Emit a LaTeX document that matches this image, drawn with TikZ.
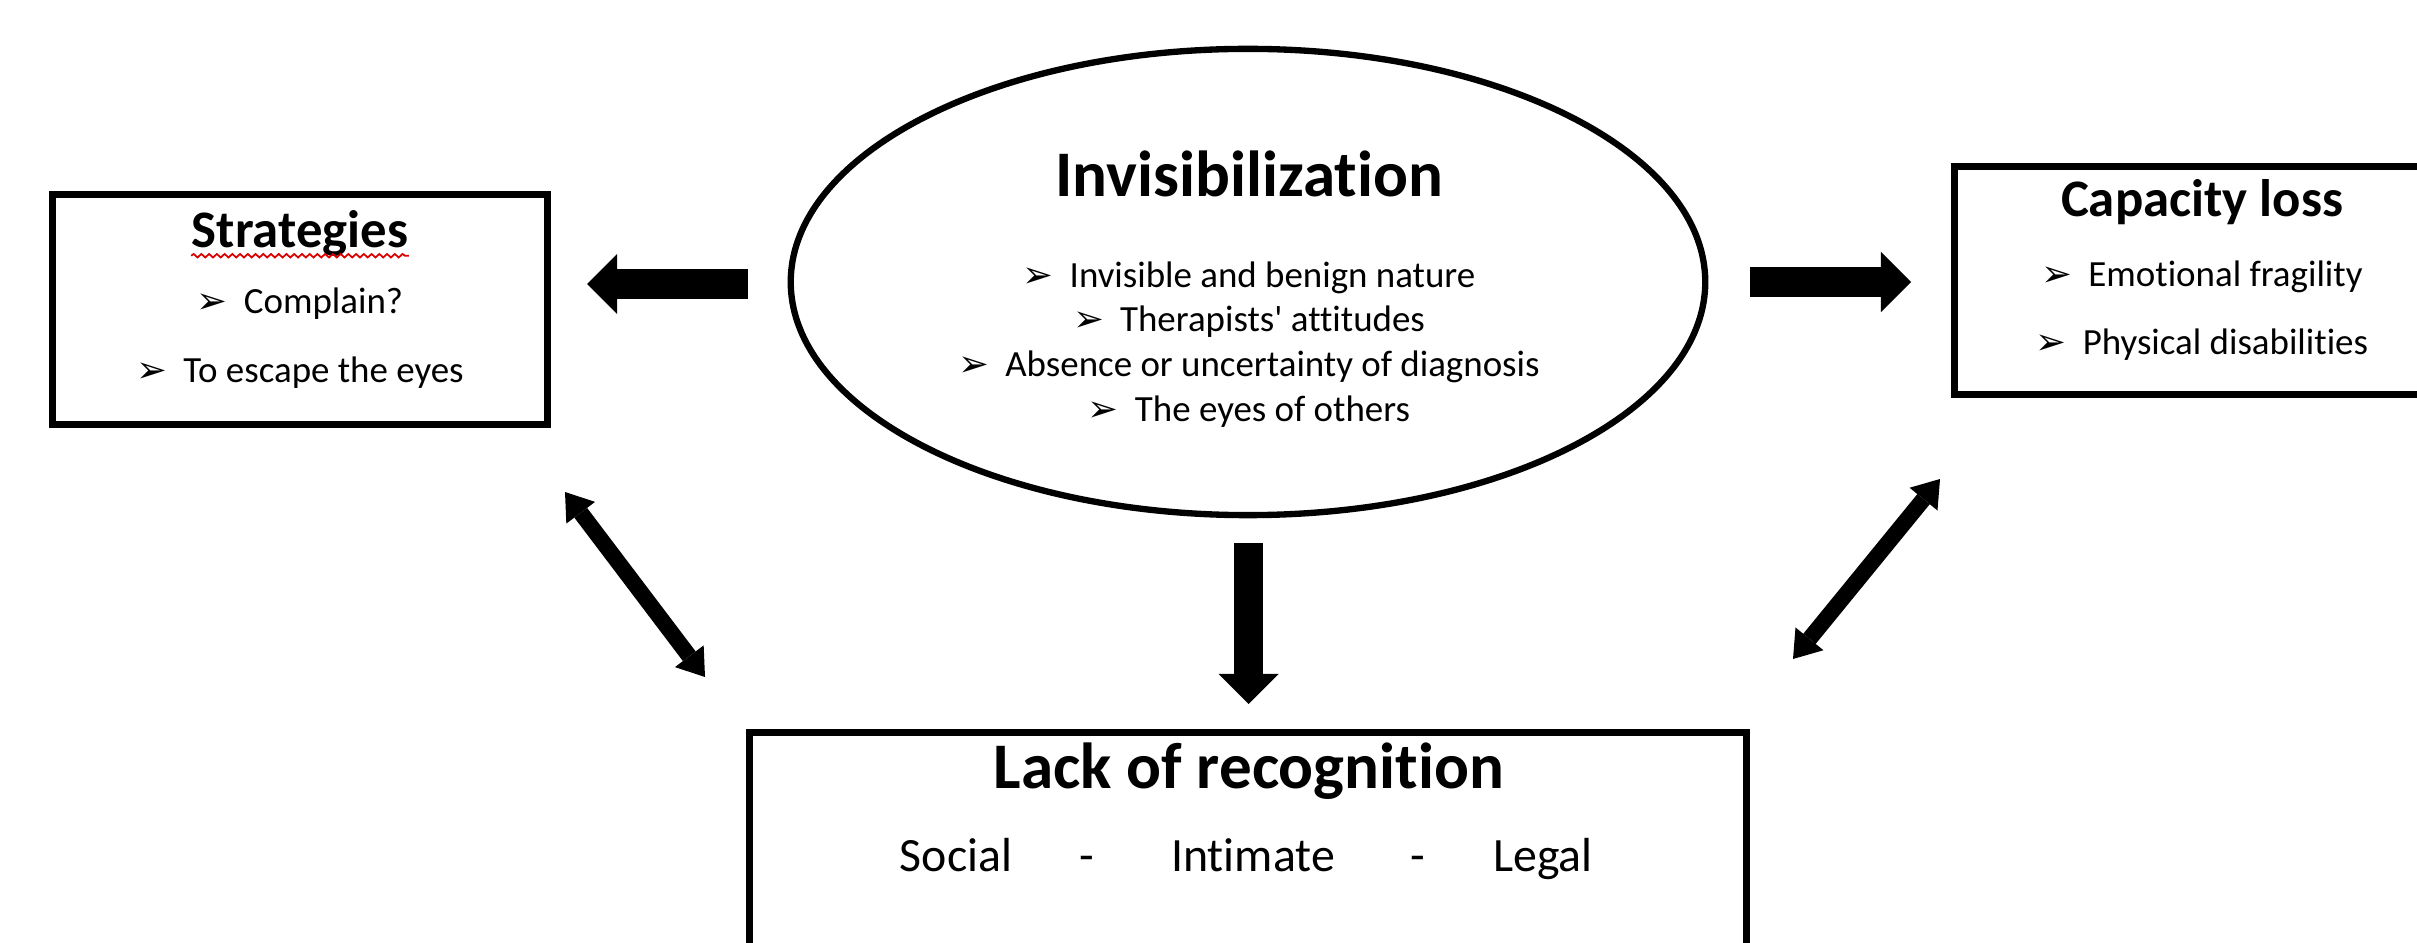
\documentclass[tikz,border=0pt]{standalone}
\usepackage{fontspec}
\setmainfont{Carlito}[Ligatures={NoCommon}]
\newfontfamily\bulletfont{DejaVu Sans}
\usetikzlibrary{arrows.meta,positioning,shapes.geometric,decorations.pathmorphing}
\newcommand{\arrowbullet}{\makebox[0.47cm][l]{\bulletfont\fontsize{10.5}{10.5}\selectfont ➢}}
\tikzset{
  theme-box/.style={draw=black, line width=2pt, fill=white, inner sep=0pt},
  theme-oval/.style={draw=black, ellipse, line width=1.8pt, inner sep=0pt},
  theme-title/.style={font=\fontsize{18.5}{22}\selectfont\bfseries, inner sep=0pt},
  theme-subtitle/.style={font=\fontsize{15}{18}\selectfont\bfseries, inner sep=0pt},
  theme-item/.style={font=\fontsize{10.5}{12.8}\selectfont, inner sep=0pt, anchor=base},
  block-arrow/.style={line width=0.29cm, -{Triangle[width=0.6cm, length=0.3cm, line width=0pt]}},
  link-arrow/.style={line width=0.16cm,
    {Triangle[width=0.36cm, length=0.26cm, line width=0pt]}-{Triangle[width=0.36cm, length=0.26cm, line width=0pt]}}
}

\begin{document}
\begin{tikzpicture}[x=0.01cm, y=-0.01cm]
  \useasboundingbox (0,0) rectangle (2417,943);

  % Central theme
  \node[theme-oval, minimum width=9.14cm, minimum height=4.66cm] (invis) at (1248,282) {};
  \node[theme-title] (invis-title) at (1249,174) {Invisibilization};
  \foreach \name/\y/\txt in {nature/288/Invisible and benign nature,
      attitudes/332/Therapists\textquotesingle{} attitudes,
      diagnosis/377/Absence or uncertainty of diagnosis,
      eyes/422/The eyes of others} {
    \node[theme-item] (invis-\name) at (1249,\y) {\arrowbullet\txt};
  }

  % Strategies
  \node[theme-box, minimum width=4.95cm, minimum height=2.30cm] (strat) at (300,309.5) {};
  \node[theme-subtitle, anchor=base] (strat-title) at (300,248) {Strategies};
  \draw[red!85!black, line width=0.5pt, decorate,
    decoration={snake, amplitude=0.5pt, segment length=2.2pt}]
    ([yshift=-2.2pt]strat-title.base west) -- ([yshift=-2.2pt]strat-title.base east);
  \node[theme-item] (strat-complain) at (300,314) {\arrowbullet Complain?};
  \node[theme-item] (strat-escape) at (300,383) {\arrowbullet To escape the eyes};

  % Capacity loss (runs off the right edge)
  \node[theme-box, minimum width=4.95cm, minimum height=2.27cm] (capac) at (2202,280.5) {};
  \node[theme-subtitle, anchor=base] (capac-title) at (2202,217) {Capacity loss};
  \node[theme-item] (capac-emotion) at (2202,287) {\arrowbullet Emotional fragility};
  \node[theme-item] (capac-physic) at (2202,355) {\arrowbullet Physical disabilities};

  % Lack of recognition (runs off the bottom edge)
  \node[theme-box, minimum width=9.97cm, minimum height=3cm, anchor=north] (lack) at (1248,729) {};
  \node[theme-title, anchor=base] (lack-title) at (1249,788) {Lack of recognition};
  \foreach \name/\x/\word in {social/956/Social, dash-a/1087/-, intimate/1253/Intimate,
      dash-b/1418/-, legal/1543/Legal} {
    \node[font=\fontsize{13.6}{16}\selectfont, inner sep=0pt, anchor=base] (lack-\name) at (\x,872) {\word};
  }

  % Connector ends
  \coordinate (invis-w) at (748,284);
  \coordinate (strat-e) at (587,284);
  \coordinate (invis-e) at (1750,282);
  \coordinate (capac-w) at (1911,282);
  \coordinate (invis-s) at (1248.5,543);
  \coordinate (lack-n) at (1248.5,704);
  \coordinate (strat-s) at (565,492);
  \coordinate (lack-nw) at (705,677);
  \coordinate (capac-s) at (1940,479);
  \coordinate (lack-ne) at (1793,659);

  \draw[block-arrow] (invis-w) -- (strat-e);
  \draw[block-arrow] (invis-e) -- (capac-w);
  \draw[block-arrow] (invis-s) -- (lack-n);
  \draw[link-arrow] (strat-s) -- (lack-nw);
  \draw[link-arrow] (capac-s) -- (lack-ne);
\end{tikzpicture}
\end{document}
